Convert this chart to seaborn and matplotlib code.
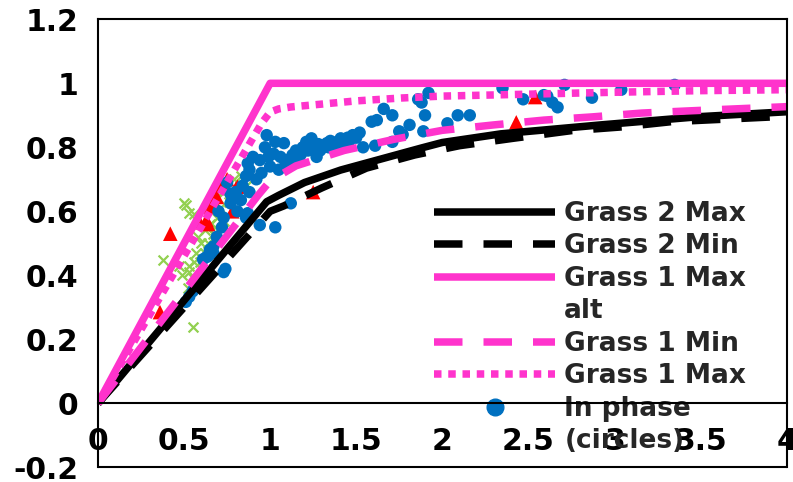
import matplotlib
matplotlib.use("Agg")
import matplotlib.pyplot as plt
from matplotlib.lines import Line2D
import seaborn as sns

# ---- design curves ----
grass2_max_x = [0, 0.98, 1.05, 1.2, 1.41, 1.88, 2.0, 2.34, 2.92, 3.5, 4.0]
grass2_max_y = [0, 0.63, 0.65, 0.69, 0.729, 0.798, 0.815, 0.842, 0.87, 0.896, 0.911]

grass2_min_x = [0, 1.0, 1.08, 1.3, 1.56, 1.84, 2.1, 2.41, 2.75, 3.05, 3.33, 4.0]
grass2_min_y = [0, 0.6, 0.617, 0.673, 0.735, 0.776, 0.805, 0.828, 0.852, 0.864, 0.88, 0.897]

grass1_max_alt_x = [0, 1.0, 4.0]
grass1_max_alt_y = [0, 1.0, 1.0]

grass1_min_x = [0, 0.93, 1.0, 1.15, 1.43, 1.72, 2.0, 2.3, 2.59, 2.87, 3.16, 3.44, 4.0]
grass1_min_y = [0, 0.65, 0.695, 0.742, 0.79, 0.825, 0.853, 0.87, 0.885, 0.895, 0.907, 0.914, 0.927]

grass1_max_x = [0, 0.95, 1.0, 1.05, 1.12, 1.5, 1.76, 2.0, 2.5, 3.0, 3.5, 4.0]
grass1_max_y = [0, 0.875, 0.91, 0.92, 0.926, 0.945, 0.954, 0.96, 0.966, 0.972, 0.977, 0.98]

# ---- measurements ----
in_phase_x = [1.92, 1.86, 1.88, 1.90, 1.81, 1.77, 1.89, 2.09, 2.16, 2.03, 2.35, 2.47,
              2.61, 2.64, 2.67, 2.71, 2.87, 3.04, 3.35, 2.59,
              1.66, 1.71, 1.59, 1.62, 1.75, 1.54, 1.61, 1.71,
              1.52, 1.48, 1.45, 1.41, 1.39, 1.35, 1.33, 1.31, 1.29, 1.24, 1.21, 1.19,
              1.15, 1.13, 1.10, 1.06, 1.02, 0.98, 0.97, 0.94, 0.90, 0.88, 1.03, 1.08,
              1.25, 1.37, 1.43, 1.27, 1.17, 1.12, 0.95, 1.00, 1.05, 0.92, 0.86,
              1.12, 1.03, 0.94, 0.87, 0.83, 0.77, 0.81, 0.86, 0.73, 0.67, 0.65, 0.67,
              0.63, 0.74, 0.73, 0.53, 0.51, 0.87, 0.77, 0.75, 0.78, 0.80, 0.84, 0.88,
              0.70, 0.72, 0.69, 0.64, 0.61, 0.56, 0.55,
              1.18, 1.22, 1.28, 1.34, 1.40, 1.46, 1.50, 1.14, 1.09, 0.99]
in_phase_y = [0.97, 0.95, 0.94, 0.90, 0.87, 0.84, 0.85, 0.90, 0.90, 0.875, 0.985, 0.95,
              0.96, 0.94, 0.925, 0.995, 0.955, 0.98, 0.995, 0.963,
              0.92, 0.90, 0.88, 0.885, 0.85, 0.80, 0.805, 0.817,
              0.846, 0.838, 0.83, 0.828, 0.817, 0.82, 0.813, 0.80, 0.79, 0.828, 0.817, 0.80,
              0.79, 0.776, 0.76, 0.77, 0.78, 0.838, 0.80, 0.76, 0.77, 0.73, 0.817, 0.813,
              0.80, 0.795, 0.81, 0.77, 0.77, 0.745, 0.72, 0.74, 0.73, 0.70, 0.71,
              0.625, 0.55, 0.557, 0.594, 0.635, 0.625, 0.60, 0.58, 0.58, 0.49, 0.48, 0.47,
              0.457, 0.42, 0.41, 0.333, 0.317, 0.75, 0.655, 0.69, 0.64, 0.66, 0.68, 0.66,
              0.60, 0.55, 0.52, 0.46, 0.45, 0.36, 0.35,
              0.78, 0.79, 0.81, 0.80, 0.80, 0.82, 0.83, 0.76, 0.75, 0.77]

triangles_x = [0.42, 0.36, 0.75, 0.81, 0.69, 0.65, 0.63, 0.59, 0.80, 0.67, 0.64, 1.25,
               2.54, 2.43, 0.72, 0.78]
triangles_y = [0.53, 0.285, 0.70, 0.677, 0.645, 0.615, 0.573, 0.566, 0.67, 0.635, 0.56, 0.66,
               0.957, 0.878, 0.68, 0.60]

crosses_x = [0.50, 0.53, 0.38, 0.55, 0.51, 0.56, 0.53, 0.53, 0.56, 0.67, 0.69, 0.71, 0.83,
             0.84, 0.60, 0.62, 0.58, 0.65, 0.70, 0.72, 0.74, 0.66, 0.62, 0.57, 0.59, 0.55,
             0.52, 0.76, 0.68, 0.73, 0.64, 0.79, 0.86, 0.49, 0.47]
crosses_y = [0.625, 0.594, 0.447, 0.238, 0.62, 0.59, 0.41, 0.43, 0.44, 0.53, 0.58, 0.61, 0.71,
             0.67, 0.50, 0.47, 0.52, 0.56, 0.64, 0.66, 0.68, 0.60, 0.54, 0.47, 0.44, 0.39,
             0.36, 0.63, 0.55, 0.57, 0.50, 0.70, 0.68, 0.40, 0.43]

x_ticks = [0, 0.5, 1, 1.5, 2, 2.5, 3, 3.5, 4]
x_tick_labels = ["0", "0.5", "1", "1.5", "2", "2.5", "3", "3.5", "4"]
y_ticks = [-0.2, 0, 0.2, 0.4, 0.6, 0.8, 1.0, 1.2]
y_tick_labels = ["-0.2", "0", "0.2", "0.4", "0.6", "0.8", "1", "1.2"]

BLACK = "#000000"
MAGENTA = "#FF33CC"
BLUE = "#0070C0"
RED = "#FF0000"
GREEN = "#92D050"
LW = 5.4
DASH = (0, (3.8, 2.8))
DOT = (0, (1.0, 0.9))

sns.set_style("white")
plt.rcParams["font.family"] = ["DejaVu Sans"]
plt.rcParams["font.weight"] = "bold"
plt.rcParams["lines.solid_capstyle"] = "butt"
plt.rcParams["lines.dash_capstyle"] = "butt"

W, H = 793, 482
fig = plt.figure(figsize=(W / 100, H / 100), dpi=100)
left, right, top, bottom = 98, 786.5, 19.3, 467.3
ax = fig.add_axes([left / W, 1 - bottom / H, (right - left) / W, (bottom - top) / H])

# scatter layers
sns.scatterplot(x=crosses_x, y=crosses_y, marker="x", s=50, color=GREEN,
                linewidth=1.6, ax=ax, zorder=2)
sns.scatterplot(x=triangles_x, y=triangles_y, marker="^", s=110, color=RED,
                edgecolor="none", ax=ax, zorder=3)
sns.scatterplot(x=in_phase_x, y=in_phase_y, marker="o", s=80, color=BLUE,
                edgecolor="none", ax=ax, zorder=4)

# design curves
line_kw = dict(ax=ax, estimator=None, sort=False, lw=LW, zorder=6)
sns.lineplot(x=grass2_min_x, y=grass2_min_y, color=BLACK, linestyle=DASH, **line_kw)
sns.lineplot(x=grass2_max_x, y=grass2_max_y, color=BLACK, **line_kw)
sns.lineplot(x=grass1_min_x, y=grass1_min_y, color=MAGENTA, linestyle=DASH, **line_kw)
sns.lineplot(x=grass1_max_x, y=grass1_max_y, color=MAGENTA, linestyle=DOT, **line_kw)
sns.lineplot(x=grass1_max_alt_x, y=grass1_max_alt_y, color=MAGENTA, **line_kw)

ax.set_xlim(0, 4)
ax.set_ylim(-0.2, 1.2)
ax.set_xticks(x_ticks)
ax.set_xticklabels(x_tick_labels)
ax.set_yticks(y_ticks)
ax.set_yticklabels(y_tick_labels)
for lab in ax.get_xticklabels() + ax.get_yticklabels():
    lab.set_fontweight("bold")

for s in ax.spines.values():
    s.set_visible(True)
    s.set_color("black")
    s.set_linewidth(1.5)
    s.set_zorder(7)
ax.spines["bottom"].set_position(("data", 0))
ax.axhline(-0.2, color="black", lw=1.5, clip_on=False, zorder=7)

ax.tick_params(axis="both", direction="out", length=8, width=1.5,
               labelsize=21.5, colors="black")
ax.tick_params(axis="x", pad=9)
ax.tick_params(axis="y", pad=6)
ax.set_xlabel("")
ax.set_ylabel("")

blank = Line2D([], [], linestyle="none")
handles = [
    Line2D([], [], color=BLACK, lw=LW),
    Line2D([], [], color=BLACK, lw=LW, linestyle=DASH),
    Line2D([], [], color=MAGENTA, lw=LW),
    blank,
    Line2D([], [], color=MAGENTA, lw=LW, linestyle=DASH),
    Line2D([], [], color=MAGENTA, lw=LW, linestyle=DOT),
    Line2D([], [], color=BLUE, marker="o", markersize=12, linestyle="none"),
    blank,
]
labels = ["Grass 2 Max", "Grass 2 Min", "Grass 1 Max", "alt", "Grass 1 Min",
          "Grass 1 Max", "In phase", "(circles)"]
leg = ax.legend(handles, labels, loc="upper left",
                bbox_to_anchor=(434 / W, 1 - 201 / H), bbox_transform=fig.transFigure,
                frameon=False, fontsize=19, handlelength=4.6, handletextpad=0.34,
                labelspacing=0.245, borderpad=0, borderaxespad=0)
for t in leg.get_texts():
    t.set_fontweight("bold")

fig.savefig("out.png", dpi=100)
